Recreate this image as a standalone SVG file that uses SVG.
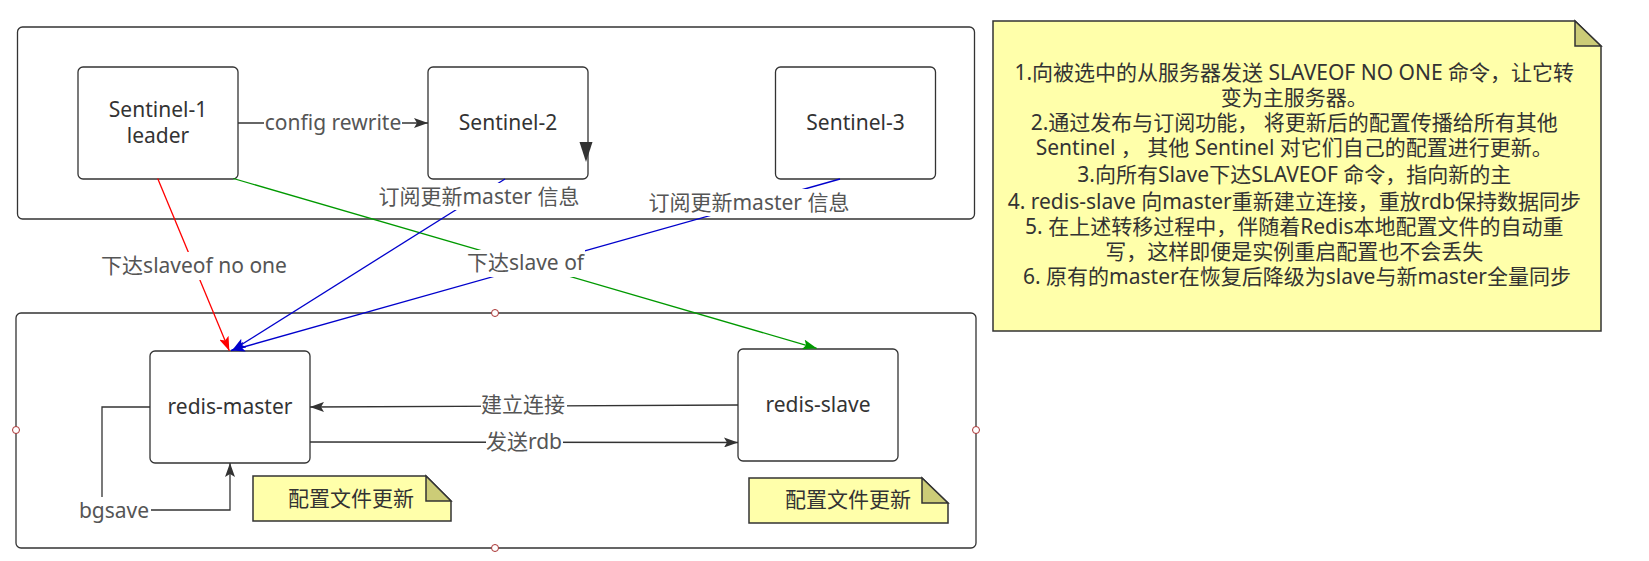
<svg xmlns="http://www.w3.org/2000/svg" width="1649" height="561" viewBox="0 0 1649 561">
<style>
.box{fill:#fff;stroke:#333;stroke-width:1.3}
.node rect{fill:#fff;stroke:#333;stroke-width:1.3}
.t{font-family:'Noto Sans','Noto Sans CJK SC',sans-serif;font-size:21px;fill:#333;text-anchor:middle}
.lbl{fill:#555}
.note{fill:#ffffaa;stroke:#333;stroke-width:1.5}
.fold{fill:#cccc77;stroke:#333;stroke-width:1.5;stroke-linejoin:miter}
.c{fill:none;stroke-width:1.3}
.bg{fill:#fff}
.h{fill:#fff;stroke:#a33;stroke-width:1}
</style>
<defs>
<marker id="aDark" markerWidth="14" markerHeight="10" refX="14" refY="5" orient="auto" markerUnits="userSpaceOnUse"><path d="M0,0 L14,5 L0,10 L3,5 z" fill="#333"/></marker>
<marker id="aRed" markerWidth="14" markerHeight="10" refX="14" refY="5" orient="auto" markerUnits="userSpaceOnUse"><path d="M0,0 L14,5 L0,10 L3,5 z" fill="#ff0000"/></marker>
<marker id="aBlue" markerWidth="14" markerHeight="10" refX="14" refY="5" orient="auto" markerUnits="userSpaceOnUse"><path d="M0,0 L14,5 L0,10 L3,5 z" fill="#0000cc"/></marker>
<marker id="aGreen" markerWidth="14" markerHeight="10" refX="14" refY="5" orient="auto" markerUnits="userSpaceOnUse"><path d="M0,0 L14,5 L0,10 L3,5 z" fill="#009900"/></marker>
</defs>

<g id="sentinel-group"><rect class="box" x="17.5" y="27" width="957" height="192" rx="5"/></g>
<g id="redis-group">
<rect class="box" x="16" y="313" width="960" height="235" rx="5"/>
<circle class="h" cx="495" cy="313" r="3.5"/>
<circle class="h" cx="16" cy="430" r="3.5"/>
<circle class="h" cx="976" cy="430" r="3.5"/>
<circle class="h" cx="495" cy="548" r="3.5"/>
</g>

<g id="sentinel-1" class="node"><rect x="78" y="67" width="160" height="112" rx="5"/><text class="t" x="158" y="116.5">Sentinel-1</text><text class="t" x="158" y="143">leader</text></g>
<g id="sentinel-2" class="node"><rect x="428" y="67" width="160" height="112" rx="5"/><text class="t" x="508" y="130">Sentinel-2</text></g>
<g id="sentinel-3" class="node"><rect x="775.5" y="67" width="160" height="112" rx="5"/><text class="t" x="855.5" y="130">Sentinel-3</text></g>
<g id="redis-master" class="node"><rect x="150" y="351" width="160" height="112" rx="5"/><text class="t" x="230" y="414">redis-master</text></g>
<g id="redis-slave" class="node"><rect x="738" y="349" width="160" height="112" rx="5"/><text class="t" x="818" y="412">redis-slave</text></g>

<g id="connectors">
<path class="c" stroke="#333" d="M238,123 L428,123" marker-end="url(#aDark)"/>
<path d="M579.5,142 L592.5,142 L586,162 Z" fill="#333"/>
<path class="c" stroke="#ff0000" d="M157.7,178.5 L229.3,350.7" marker-end="url(#aRed)"/>
<path class="c" stroke="#009900" d="M233.4,178.5 L816.7,348.3" marker-end="url(#aGreen)"/>
<path class="c" stroke="#0000cc" d="M505,179 L232,350.5" marker-end="url(#aBlue)"/>
<path class="c" stroke="#0000cc" d="M840,179 L231,350.5" marker-end="url(#aBlue)"/>
<path class="c" stroke="#333" d="M738,405 L310,407" marker-end="url(#aDark)"/>
<path class="c" stroke="#333" d="M310,442 L738,442.5" marker-end="url(#aDark)"/>
<path class="c" stroke="#333" d="M150,407 L102,407 L102,497"/>
<path class="c" stroke="#333" d="M150,510 L230,510 L230,463" marker-end="url(#aDark)"/>

<rect class="bg" x="264" y="110" width="138" height="27"/>
<text class="t lbl" x="333" y="130">config rewrite</text>
<rect class="bg" x="99" y="252" width="190" height="28"/>
<text class="t lbl" x="194" y="273">下达slaveof no one</text>
<rect class="bg" x="466" y="250" width="119" height="27"/>
<text class="t lbl" x="525.5" y="270">下达slave of</text>
<rect class="bg" x="379" y="183" width="201" height="27"/>
<text class="t lbl" x="479" y="204">订阅更新master 信息</text>
<rect class="bg" x="648" y="189" width="202" height="27"/>
<text class="t lbl" x="749" y="210">订阅更新master 信息</text>
<rect class="bg" x="481" y="392" width="86" height="27"/>
<text class="t lbl" x="523" y="412">建立连接</text>
<rect class="bg" x="486" y="429" width="77" height="27"/>
<text class="t lbl" x="524" y="449">发送rdb</text>
<rect class="bg" x="78" y="497" width="73" height="27"/>
<text class="t lbl" x="114" y="518">bgsave</text>
</g>

<g id="note-steps">
<path class="note" d="M993,21 L1575,21 L1601,46 L1601,331 L993,331 Z"/>
<path class="fold" d="M1575,21 L1575,46 L1601,46 Z"/>
<text class="t" x="1297">
<tspan x="1297" y="80.3">1.向被选中的从服务器发送 SLAVEOF NO ONE 命令，让它转</tspan>
<tspan x="1297" y="105.3">变为主服务器。</tspan>
<tspan x="1297" y="130.3">2.通过发布与订阅功能， 将更新后的配置传播给所有其他</tspan>
<tspan x="1297" y="155.3">Sentinel ， 其他 Sentinel 对它们自己的配置进行更新。</tspan>
<tspan x="1297" y="182">3.向所有Slave下达SLAVEOF 命令，指向新的主</tspan>
<tspan x="1297" y="208.7">4. redis-slave 向master重新建立连接，重放rdb保持数据同步</tspan>
<tspan x="1297" y="233.7">5. 在上述转移过程中，伴随着Redis本地配置文件的自动重</tspan>
<tspan x="1297" y="258.7">写，这样即便是实例重启配置也不会丢失</tspan>
<tspan x="1297" y="283.7">6. 原有的master在恢复后降级为slave与新master全量同步</tspan>
</text>
</g>

<g id="note-master">
<path class="note" d="M253,476 L426,476 L451,501 L451,521 L253,521 Z"/>
<path class="fold" d="M426,476 L426,501 L451,501 Z"/>
<text class="t" x="351" y="506">配置文件更新</text>
</g>
<g id="note-slave">
<path class="note" d="M749,478 L922,478 L948,503 L948,523 L749,523 Z"/>
<path class="fold" d="M922,478 L922,503 L948,503 Z"/>
<text class="t" x="848" y="507">配置文件更新</text>
</g>
</svg>
